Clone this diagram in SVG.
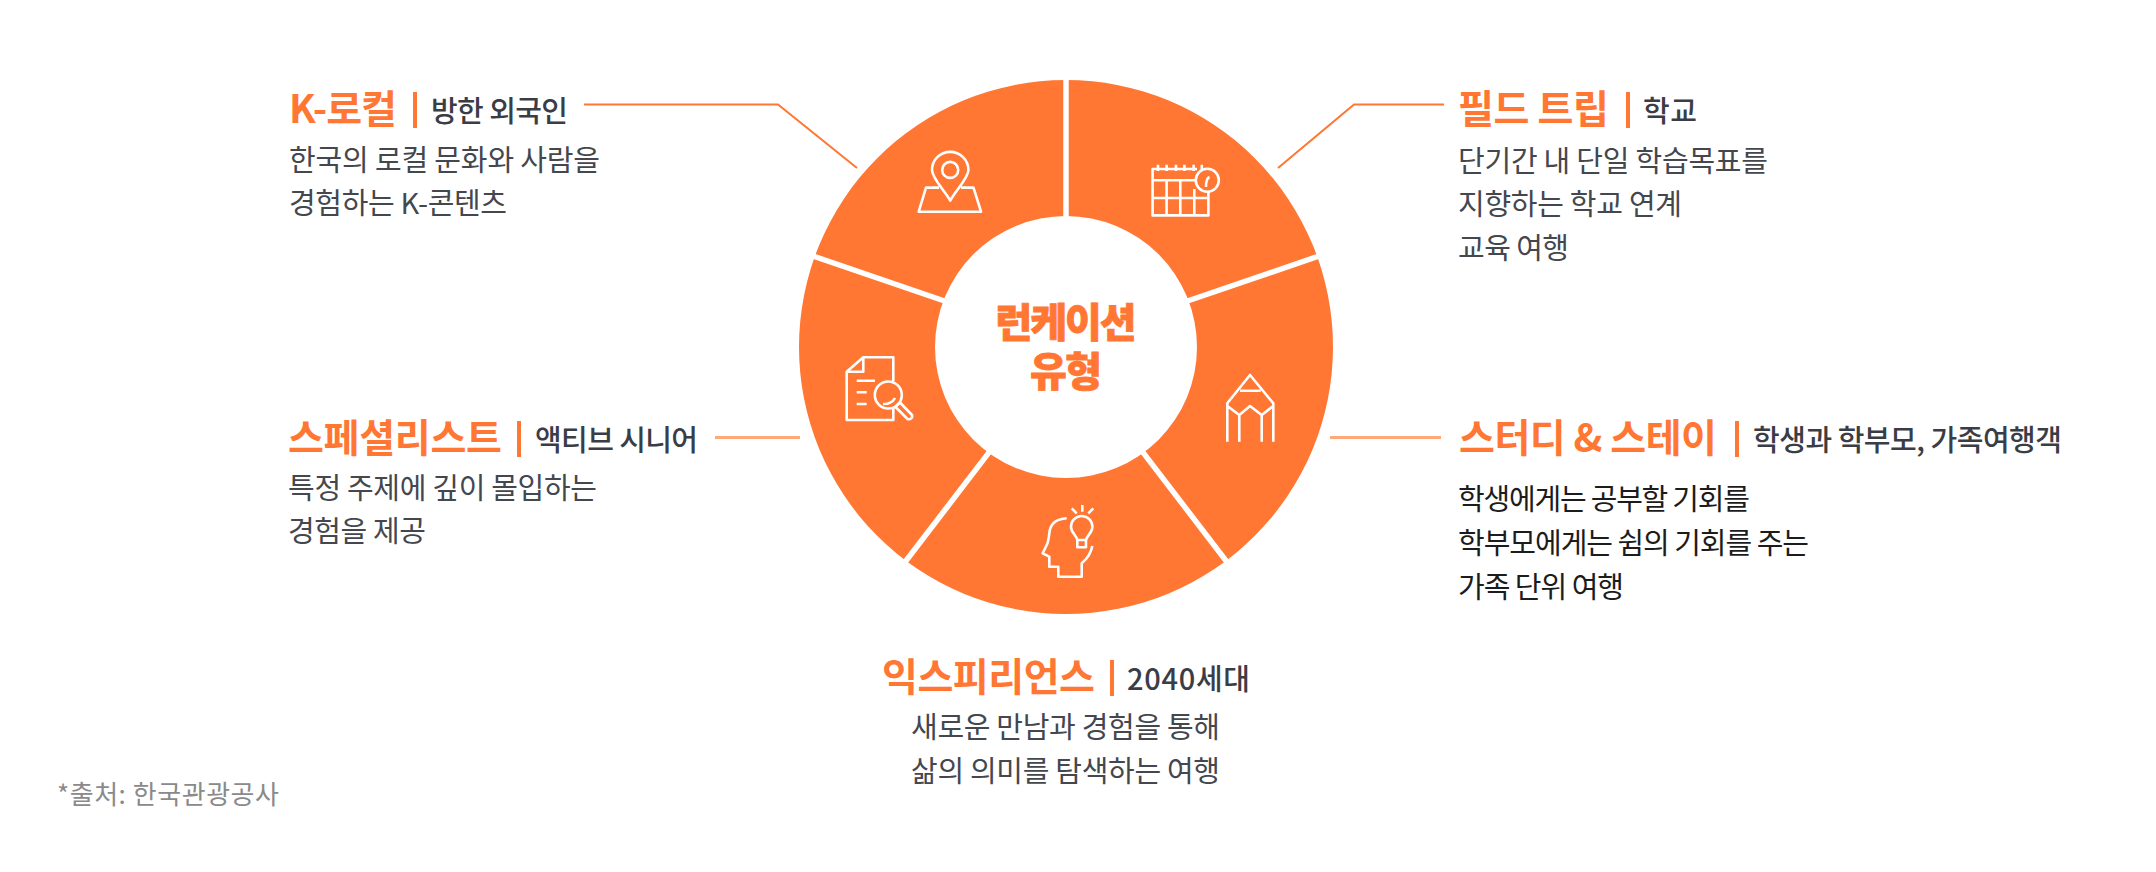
<svg xmlns="http://www.w3.org/2000/svg" width="2156" height="872" viewBox="0 0 2156 872">
<style>
text{font-family:"Noto Sans CJK KR","Noto Sans",sans-serif}
.t{font-size:39px;font-weight:700;fill:#ff7733}
.s{font-size:29px;font-weight:500;fill:#3a3d45}
.b{font-size:29px;font-weight:400;fill:#44474e}
.d{font-size:29px;font-weight:400;fill:#1c1c1c}
.bar{fill:#ff7733}
.c{font-size:40px;font-weight:900;fill:#ff7733;text-anchor:middle}
.n{font-size:26px;font-weight:400;fill:#8a8a8a}
.leader{fill:none;stroke:#ff7733;stroke-width:2}
.soft{fill:none;stroke:#ffa878;stroke-width:3}
.ic{fill:none;stroke:#fff;stroke-width:2.600;stroke-linejoin:round}
.sp{stroke:#fff;stroke-width:5.500}
</style>
<rect width="2156" height="872" fill="#fff"/>
<g id="wheel">
<path fill="#ff7733" fill-rule="evenodd" d="M799 347a267 267 0 1 0 534 0a267 267 0 1 0 -534 0ZM935 347a131 131 0 1 0 262 0a131 131 0 1 0 -262 0Z"/>
<line class="sp" x1="1066" y1="76" x2="1066" y2="218"/>
<line class="sp" x1="1186" y1="301.500" x2="1325" y2="254"/>
<line class="sp" x1="1143" y1="452.400" x2="1230" y2="566"/>
<line class="sp" x1="989" y1="452.400" x2="902" y2="566"/>
<line class="sp" x1="946" y1="301.500" x2="807" y2="254"/>
</g>
<g id="connectors">
<path class="leader" d="M584 104.500H778L857 168"/>
<path class="leader" d="M1444 104.500H1354L1278 168"/>
<path class="soft" d="M1330 437.500H1441"/>
<path class="soft" d="M715 437.500H800"/>
</g>
<g id="center">
<text class="c" x="1066" y="337" textLength="141" stroke="#ff7733" stroke-width="0.800">런케이션</text>
<text class="c" x="1066" y="386" textLength="72" stroke="#ff7733" stroke-width="0.800">유형</text>
</g>
<g id="node-k-local">
<text class="t" x="289" y="123" textLength="108">K-로컬</text>
<rect class="bar" x="413" y="92" width="4" height="36"/>
<text class="s" x="431" y="122" textLength="137">방한 외국인</text>
<text class="b" x="289" y="171" textLength="311">한국의 로컬 문화와 사람을</text>
<text class="b" x="289" y="214" textLength="218">경험하는 K-콘텐츠</text>
<g class="ic">
<path d="M950.200 200.600C944 190 932 178 932 170a18 18 0 0 1 36.400 0C968.400 178 956 190 950.200 200.600Z"/>
<circle cx="950.200" cy="169.900" r="8"/>
<path d="M939 187.600H926L918.700 211.700H981L973.500 187.600H961"/>
</g>
</g>
<g id="node-field-trip">
<text class="t" x="1458" y="123" textLength="151">필드 트립</text>
<rect class="bar" x="1626" y="92" width="4" height="36"/>
<text class="s" x="1643" y="122" textLength="54">학교</text>
<text class="b" x="1458" y="172" textLength="310">단기간 내 단일 학습목표를</text>
<text class="b" x="1458" y="215" textLength="224">지향하는 학교 연계</text>
<text class="b" x="1458" y="259" textLength="111">교육 여행</text>
<g class="ic">
<path d="M1208.400 190V215.400H1152.600V169H1197M1152.600 180.200H1197M1152.600 198H1208.400M1166.600 180.200V215.400M1180.300 180.200V215.400M1194.300 189V215.400M1158 164.700V171M1166.600 164.700V171M1176 164.700V171M1184.400 164.700V171M1193.600 164.700V171M1201.800 164.700V171"/>
<circle cx="1207.300" cy="180.200" r="11.500" fill="#ff7733"/>
<path d="M1206 187C1206 181 1207 178 1209.500 177"/>
</g>
</g>
<g id="node-study-stay">
<text class="t" x="1459" y="452" textLength="258">스터디 &amp; 스테이</text>
<rect class="bar" x="1735" y="421" width="4" height="36"/>
<text class="s" x="1753" y="451" textLength="309">학생과 학부모, 가족여행객</text>
<text class="d" x="1458" y="510" textLength="292">학생에게는 공부할 기회를</text>
<text class="d" x="1458" y="554" textLength="351">학부모에게는 쉼의 기회를 주는</text>
<text class="d" x="1458" y="598" textLength="166">가족 단위 여행</text>
<path class="ic" d="M1227.300 441.700V403.300L1250 375L1273.300 403.300V441.700M1240 390.700H1260.700M1227.300 406L1239.300 415L1250 406L1261.700 415L1273.300 406M1239.300 415V441.700M1261.700 415V441.700"/>
</g>
<g id="node-experience">
<text class="t" x="882" y="691" textLength="213">익스피리언스</text>
<rect class="bar" x="1110" y="660" width="4" height="36"/>
<text class="s" x="1127" y="690" textLength="123">2040세대</text>
<text class="b" x="911" y="738" textLength="309">새로운 만남과 경험을 통해</text>
<text class="b" x="911" y="782" textLength="309">삶의 의미를 탐색하는 여행</text>
<g class="ic">
<path d="M1066.700 518.300C1055 519 1050 525 1049.300 533.300C1048.500 540 1048 543 1046.700 545L1042.700 553.300L1049.300 556.700V566.700H1058.300V576.700H1081.700V563.300C1088 558 1091 553 1092.300 546"/>
<path d="M1077.300 540C1076.500 535 1071 533 1071 526.700a10.700 10.700 0 0 1 21.400 0C1092.400 533 1087 535 1086 540H1077.300V547.300H1086V540"/>
<path d="M1082.300 505V511.700M1071.700 508.300L1076.700 513.300M1093.300 508.300L1088.300 513.300"/>
</g>
</g>
<g id="node-specialist">
<text class="t" x="288" y="452" textLength="214">스페셜리스트</text>
<rect class="bar" x="517" y="421" width="4" height="36"/>
<text class="s" x="535" y="451" textLength="163">액티브 시니어</text>
<text class="b" x="288" y="499" textLength="309">특정 주제에 깊이 몰입하는</text>
<text class="b" x="288" y="542" textLength="138">경험을 제공</text>
<g class="ic">
<path d="M893.300 381V357.300H863.300L846.700 371.700V420H893.300V407M863.300 357.300V371.700H846.700"/>
<path d="M856.700 380.700H875M856.700 392.300H866.700M856.700 404H866.700"/>
<circle cx="888.300" cy="395" r="13.500"/>
<path d="M883 404C888 404.500 893 402 895 398M897 405L900 402.500L912 415C913 418 910 420 907.500 419L895.500 407Z"/>
</g>
</g>
<g id="note">
<text class="n" x="57" y="804" textLength="222">*출처: 한국관광공사</text>
</g>
</svg>
